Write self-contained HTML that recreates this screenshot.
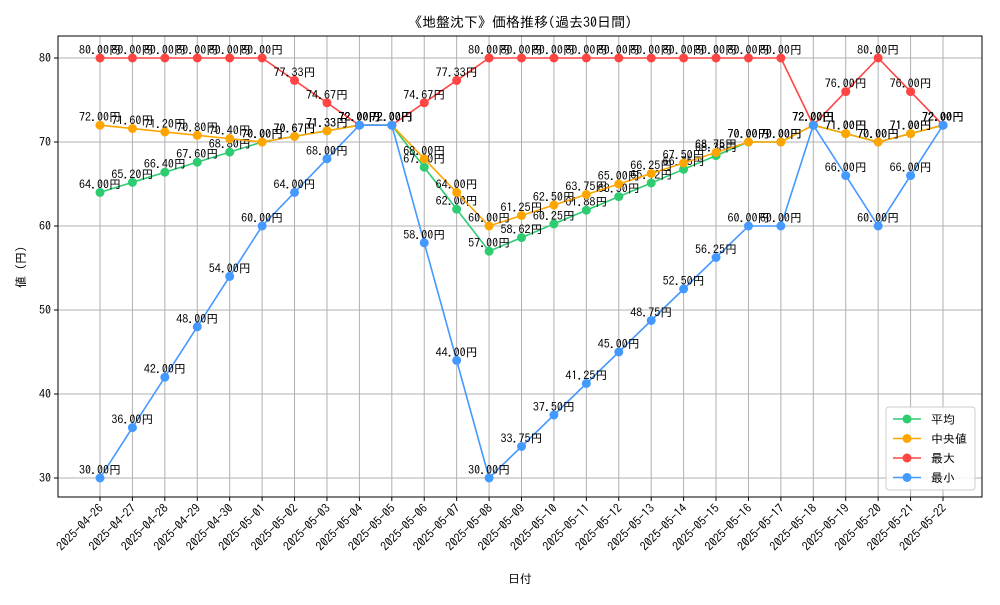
<!DOCTYPE html>
<html><head><meta charset="utf-8"><style>
body{margin:0;background:#fff}
svg{font-family:"IPAGothic","Liberation Sans","Noto Sans CJK JP",sans-serif}
</style></head><body>
<svg id="c" width="1000" height="600"></svg>
<script>
const dates=["2025-04-26","2025-04-27","2025-04-28","2025-04-29","2025-04-30","2025-05-01","2025-05-02","2025-05-03","2025-05-04","2025-05-05","2025-05-06","2025-05-07","2025-05-08","2025-05-09","2025-05-10","2025-05-11","2025-05-12","2025-05-13","2025-05-14","2025-05-15","2025-05-16","2025-05-17","2025-05-18","2025-05-19","2025-05-20","2025-05-21","2025-05-22"];
const meanVals=[64,65.2,66.4,67.6,68.8,70,70.67,71.33,72,72,67,62,57,58.62,60.25,61.88,63.5,65.12,66.75,68.38,70,70,72,71,70,71,72];
const medianVals=[72,71.6,71.2,70.8,70.4,70,70.67,71.33,72,72,68,64,60,61.25,62.5,63.75,65,66.25,67.5,68.75,70,70,72,71,70,71,72];
const maxVals=[80,80,80,80,80,80,77.33,74.67,72,72,74.67,77.33,80,80,80,80,80,80,80,80,80,80,72,76,80,76,72];
const minVals=[30,36,42,48,54,60,64,68,72,72,58,44,30,33.75,37.5,41.25,45,48.75,52.5,56.25,60,60,72,66,60,66,72];
const yTicks=[30,40,50,60,70,80];
const seriesNames=["平均","中央値","最大","最小"];
const NS="http://www.w3.org/2000/svg";
const svg=document.getElementById("c");
const L=58,R=982,T=36,B=497;
const x=i=>100+i*(943-100)/(dates.length-1);
const y=v=>478-(v-30)*(478-58)/50;
function el(t,a,p){const e=document.createElementNS(NS,t);for(const k in a)e.setAttribute(k,a[k]);(p||svg).appendChild(e);return e;}
dates.forEach((d,i)=>{
 const g=el("line",{x1:x(i),x2:x(i),y1:T,y2:B,stroke:"#b0b0b0","stroke-width":1});
 
 
 el("line",{x1:x(i),x2:x(i),y1:B,y2:B+4,stroke:"#000"});
 const t=el("text",{x:0,y:0,"font-size":12,"text-anchor":"end",transform:`translate(${x(i)+4},${B+12}) rotate(-45)`});
 t.textContent=d;
 
 
});
yTicks.forEach(v=>{
 const g=el("line",{x1:L,x2:R,y1:y(v),y2:y(v),stroke:"#b0b0b0","stroke-width":1});
 
 
 el("line",{x1:L-4,x2:L,y1:y(v),y2:y(v),stroke:"#000"});
 const t=el("text",{x:L-7,y:y(v)+4,"font-size":12,"text-anchor":"end"});
 t.textContent=v;
 
 
});
const fr=el("rect",{x:L,y:T,width:R-L,height:B-T,fill:"none",stroke:"#000"});


const series=[[meanVals,"#2ecc71","mean"],[medianVals,"#ffa500","median"],[maxVals,"#ff4444","max"],[minVals,"#4499ff","min"]];
series.forEach(([vals,col,nm])=>{
 const g=el("g",{});
 
 
 const p=el("polyline",{points:vals.map((v,i)=>x(i)+","+y(v)).join(" "),fill:"none",stroke:col,"stroke-width":1.6},g);
 
 
 vals.forEach((v,i)=>{
  const c=el("circle",{cx:x(i),cy:y(v),r:4.5,fill:col},g);
  
  
  const t=el("text",{x:x(i),y:y(v)-4,"font-size":12,"text-anchor":"middle"},g);
  t.textContent=v.toFixed(2)+"円";
  
  
 });
});
const title=el("text",{x:520,y:27,"font-size":14,"text-anchor":"middle"});
title.textContent="《地盤沈下》価格推移(過去30日間)";


const xl=el("text",{x:520,y:583,"font-size":12,"text-anchor":"middle"});
xl.textContent="日付";


const yl=el("text",{x:0,y:0,"font-size":12,"text-anchor":"middle",transform:"translate(25,267) rotate(-90)"});
yl.textContent="値 (円)";


const lg=el("g",{});


el("rect",{x:886,y:407,width:89,height:83,rx:3,fill:"#fff",stroke:"#ccc","fill-opacity":0.85},lg);
series.forEach(([v,col,nm],k)=>{
 const yy=419+k*19.5;
 const e=el("g",{},lg);
 
 
 el("line",{x1:893,x2:921,y1:yy,y2:yy,stroke:col,"stroke-width":1.6},e);
 el("circle",{cx:907,cy:yy,r:4.5,fill:col},e);
 const t=el("text",{x:931,y:yy+4.5,"font-size":12},e);
 t.textContent=seriesNames[k];
});
</script>
</body></html>
